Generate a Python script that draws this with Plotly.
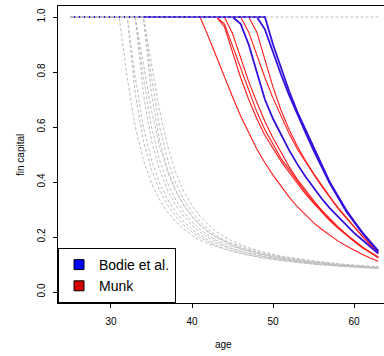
import plotly.graph_objects as go

ages = [25, 26, 27, 28, 29, 30, 31, 32, 33, 34, 35, 36, 37, 38, 39, 40, 41, 42, 43, 44,
        45, 46, 47, 48, 49, 50, 51, 52, 53, 54, 55, 56, 57, 58, 59, 60, 61, 62, 63]

# Munk (red): age where capital starts to decline, and values from that age to 63
munk_starts = [41, 43, 43, 44, 46, 47]
munk_values = [
    [1.0, 0.93, 0.855, 0.78, 0.71, 0.64, 0.58, 0.52, 0.47, 0.425, 0.385, 0.345, 0.31, 0.28,
     0.252, 0.228, 0.206, 0.186, 0.168, 0.152, 0.137, 0.124, 0.112],
    [1.0, 0.965, 0.87, 0.78, 0.70, 0.63, 0.57, 0.52, 0.475, 0.435, 0.395, 0.357, 0.323, 0.29,
     0.26, 0.232, 0.207, 0.184, 0.162, 0.142, 0.124],
    [1.0, 0.975, 0.895, 0.81, 0.73, 0.655, 0.59, 0.535, 0.485, 0.445, 0.404, 0.364, 0.328,
     0.294, 0.263, 0.235, 0.209, 0.185, 0.163, 0.143, 0.125],
    [1.0, 0.94, 0.85, 0.765, 0.69, 0.62, 0.56, 0.505, 0.455, 0.41, 0.37, 0.333, 0.298, 0.267,
     0.238, 0.211, 0.187, 0.165, 0.145, 0.127],
    [1.0, 0.945, 0.86, 0.78, 0.705, 0.64, 0.575, 0.52, 0.472, 0.428, 0.385, 0.345, 0.305,
     0.27, 0.235, 0.203, 0.172, 0.143],
    [1.0, 0.945, 0.84, 0.745, 0.66, 0.59, 0.53, 0.478, 0.432, 0.388, 0.347, 0.308, 0.272,
     0.237, 0.204, 0.173, 0.144],
]

# Bodie et al. (blue)
bodie_starts = [45, 48, 49]
bodie_values = [
    [1.0, 0.975, 0.90, 0.80, 0.70, 0.63, 0.57, 0.515, 0.465, 0.42, 0.38, 0.34, 0.305, 0.275,
     0.245, 0.215, 0.19, 0.165, 0.14],
    [1.0, 0.955, 0.87, 0.79, 0.715, 0.645, 0.58, 0.515, 0.455, 0.395, 0.345, 0.295, 0.255,
     0.215, 0.18, 0.148],
    [1.0, 0.90, 0.815, 0.73, 0.655, 0.59, 0.525, 0.46, 0.40, 0.35, 0.30, 0.258, 0.218, 0.183,
     0.15],
]

# grey dashed reference curves
grey_starts = [31, 32, 32, 33, 33, 33, 34, 34, 34]
grey_values = [
    [1.0, 0.78, 0.60, 0.48, 0.395, 0.335, 0.29, 0.255, 0.228, 0.206, 0.188, 0.176, 0.165,
     0.156, 0.147, 0.14, 0.134, 0.128, 0.123, 0.119, 0.115, 0.111, 0.108, 0.105, 0.102,
     0.099, 0.097, 0.095, 0.093, 0.091, 0.089, 0.087, 0.086],
    [1.0, 0.72, 0.55, 0.445, 0.37, 0.315, 0.275, 0.243, 0.218, 0.198, 0.182, 0.169, 0.158,
     0.149, 0.141, 0.134, 0.128, 0.123, 0.118, 0.114, 0.11, 0.107, 0.104, 0.101, 0.098,
     0.096, 0.094, 0.092, 0.09, 0.088, 0.087, 0.085],
    [1.0, 0.78, 0.60, 0.48, 0.395, 0.335, 0.29, 0.255, 0.228, 0.206, 0.188, 0.176, 0.165,
     0.156, 0.147, 0.14, 0.134, 0.128, 0.123, 0.119, 0.115, 0.111, 0.108, 0.105, 0.102,
     0.099, 0.097, 0.095, 0.093, 0.091, 0.089, 0.087],
    [1.0, 0.72, 0.55, 0.445, 0.37, 0.315, 0.275, 0.243, 0.218, 0.198, 0.182, 0.169, 0.158,
     0.149, 0.141, 0.134, 0.128, 0.123, 0.118, 0.114, 0.11, 0.107, 0.104, 0.101, 0.098,
     0.096, 0.094, 0.092, 0.09, 0.088, 0.087],
    [1.0, 0.83, 0.66, 0.53, 0.435, 0.365, 0.315, 0.275, 0.245, 0.22, 0.2, 0.185, 0.172,
     0.161, 0.152, 0.144, 0.137, 0.131, 0.126, 0.121, 0.117, 0.113, 0.11, 0.106, 0.103,
     0.1, 0.098, 0.096, 0.094, 0.092, 0.09],
    [1.0, 0.78, 0.60, 0.48, 0.395, 0.335, 0.29, 0.255, 0.228, 0.206, 0.188, 0.176, 0.165,
     0.156, 0.147, 0.14, 0.134, 0.128, 0.123, 0.119, 0.115, 0.111, 0.108, 0.105, 0.102,
     0.099, 0.097, 0.095, 0.093, 0.091, 0.089],
    [1.0, 0.72, 0.55, 0.445, 0.37, 0.315, 0.275, 0.243, 0.218, 0.198, 0.182, 0.169, 0.158,
     0.149, 0.141, 0.134, 0.128, 0.123, 0.118, 0.114, 0.11, 0.107, 0.104, 0.101, 0.098,
     0.096, 0.094, 0.092, 0.09, 0.088],
    [1.0, 0.78, 0.60, 0.48, 0.395, 0.335, 0.29, 0.255, 0.228, 0.206, 0.188, 0.176, 0.165,
     0.156, 0.147, 0.14, 0.134, 0.128, 0.123, 0.119, 0.115, 0.111, 0.108, 0.105, 0.102,
     0.099, 0.097, 0.095, 0.093, 0.091],
    [1.0, 0.83, 0.66, 0.53, 0.435, 0.365, 0.315, 0.275, 0.245, 0.22, 0.2, 0.185, 0.172,
     0.161, 0.152, 0.144, 0.137, 0.131, 0.126, 0.121, 0.117, 0.113, 0.11, 0.106, 0.103,
     0.1, 0.098, 0.096, 0.094, 0.092],
]
grey_flat = [1.0] * len(ages)

x_ticks = [30, 40, 50, 60]
y_ticks = [0.0, 0.2, 0.4, 0.6, 0.8, 1.0]
y_ticktext = ["0.0", "0.2", "0.4", "0.6", "0.8", "1.0"]
legend_names = ["Bodie et al.", "Munk"]

FONT = "Liberation Sans, Arial, Helvetica, sans-serif"
RED = "#ff1a1a"
BLUE = "#3510dc"
GREY = "#bebebe"


def full_series(start, vals):
    y = [1.0] * (start - ages[0]) + list(vals)
    if len(y) != len(ages):
        raise ValueError("series length mismatch for start %d: %d" % (start, len(y)))
    return y


fig = go.Figure()
for s, v in zip(munk_starts, munk_values):
    fig.add_trace(go.Scatter(x=ages, y=full_series(s, v), mode="lines",
                             line=dict(color=RED, width=1.1), showlegend=False,
                             hoverinfo="skip"))
for s, v in zip(bodie_starts, bodie_values):
    fig.add_trace(go.Scatter(x=ages, y=full_series(s, v), mode="lines",
                             line=dict(color=BLUE, width=1.8), showlegend=False,
                             hoverinfo="skip"))
for s, v in zip(grey_starts, grey_values):
    fig.add_trace(go.Scatter(x=ages, y=full_series(s, v), mode="lines",
                             line=dict(color=GREY, width=1, dash="3px,2px"),
                             showlegend=False, hoverinfo="skip"))
fig.add_trace(go.Scatter(x=ages, y=grey_flat, mode="lines",
                         line=dict(color=GREY, width=1.2, dash="3px,2px"),
                         showlegend=False, hoverinfo="skip"))

# legend entries
for name, col in zip(legend_names, ["#0000ff", "#d40000"]):
    fig.add_trace(go.Scatter(x=[None], y=[None], mode="markers", name=name,
                             marker=dict(symbol="square", size=10, color=col,
                                         line=dict(color="black", width=1))))

fig.update_layout(
    width=384, height=356,
    margin=dict(l=58, r=0, t=6, b=53),
    paper_bgcolor="white", plot_bgcolor="white",
    font=dict(family=FONT, color="black", size=10),
    showlegend=True,
    legend=dict(x=0, y=0, xanchor="left", yanchor="bottom",
                bordercolor="black", borderwidth=1, bgcolor="white",
                font=dict(size=14, family=FONT, color="black"),
                tracegroupgap=0, itemwidth=30),
    xaxis=dict(range=[23.46, 63.70], tickvals=x_ticks, ticks="outside", ticklen=4,
               tickcolor="black", showline=True, linecolor="black", linewidth=1,
               mirror=True, showgrid=False, zeroline=False,
               tickfont=dict(size=10, family=FONT, color="black"),
               ticklabelstandoff=5),
    yaxis=dict(range=[-0.04, 1.04], tickvals=y_ticks, ticktext=y_ticktext,
               tickangle=-90, ticks="outside", ticklen=4, tickcolor="black",
               showline=True, linecolor="black", linewidth=1, mirror=False,
               showgrid=False, zeroline=False, ticklabelstandoff=4,
               tickfont=dict(size=10, family=FONT, color="black")),
    annotations=[
        dict(text="age", x=(224 - 58) / 326, y=(303 - 344) / 297, xref="paper",
             yref="paper", showarrow=False, xanchor="center", yanchor="middle",
             font=dict(size=10, family=FONT, color="black")),
        dict(text="fin capital", x=(20 - 58) / 326, y=(303 - 155) / 297, xref="paper",
             yref="paper", showarrow=False, xanchor="center", yanchor="middle",
             textangle=-90, font=dict(size=10, family=FONT, color="black")),
    ],
)

fig.write_html("out.html")
